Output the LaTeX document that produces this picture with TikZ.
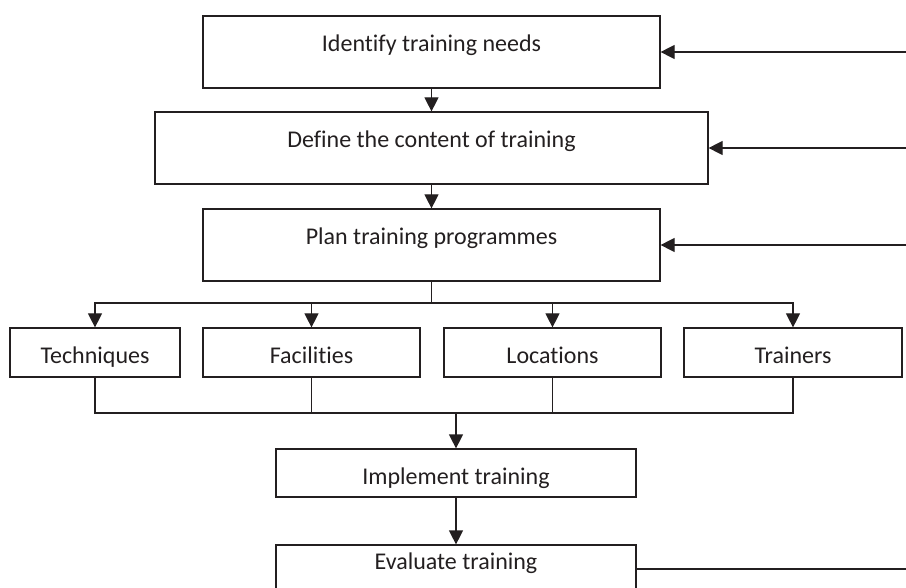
\documentclass[tikz,border=0pt]{standalone}
\usepackage{fontspec}
\setmainfont{Carlito}[Ligatures={NoCommon,NoContextual}]
\usetikzlibrary{arrows.meta}
\definecolor{ink}{HTML}{231F20}
\begin{document}
\begin{tikzpicture}[x=1pt,y=-1pt,
  box/.style={draw=ink,line width=1.2pt,inner sep=0pt,font=\fontsize{24}{28}\selectfont,text=ink},
  bigtext/.style={text height=0pt,text depth=0pt},
  smalltext/.style={text height=22pt,text depth=0pt},
  link/.style={draw=ink,line width=1.2pt},
  arr/.style={link,-{Triangle[length=14pt,width=14pt]}}]
\useasboundingbox (0,0) rectangle (906,588);
\clip (0,0) rectangle (906,588);
% main boxes
\node[box,bigtext,minimum width=457pt,minimum height=72pt] (id) at (431.5,52) {Identify training needs};
\node[box,bigtext,minimum width=553pt,minimum height=72pt] (def) at (431.5,148) {Define the content of training};
\node[box,bigtext,minimum width=457pt,minimum height=72pt] (plan) at (431.5,245) {Plan training programmes};
% small boxes
\node[box,smalltext,minimum width=170pt,minimum height=49pt] (tech) at (95,352.5) {Techniques};
\node[box,smalltext,minimum width=217pt,minimum height=49pt] (fac) at (311.5,352.5) {Facilities};
\node[box,smalltext,minimum width=217pt,minimum height=49pt] (loc) at (552.5,352.5) {Locations};
\node[box,smalltext,minimum width=218pt,minimum height=49pt] (trn) at (793,352.5) {Trainers};
% lower boxes
\node[box,smalltext,minimum width=360pt,minimum height=48pt] (impl) at (456,473) {Implement training};
\node[box,bigtext,minimum width=360pt,minimum height=48pt] (eval) at (456,569) {Evaluate training};
% connectors
\draw[arr] (id.south) -- (def.north);
\draw[arr] (def.south) -- (plan.north);
\coordinate (split) at (431.5,303);
\draw[link] (plan.south) -- (split);
\draw[arr] (split) -| (tech.north);
\draw[arr] (split) -| (fac.north);
\draw[arr] (split) -| (loc.north);
\draw[arr] (split) -| (trn.north);
\coordinate (join) at (456,413);
\draw[link] (tech.south) |- (join);
\draw[link] (fac.south) |- (join);
\draw[link] (loc.south) |- (join);
\draw[link] (trn.south) |- (join);
\draw[arr] (join) -- (impl.north);
\draw[arr] (impl.south) -- (eval.north);
% feedback lines
\coordinate (fb1) at (906,52);
\coordinate (fb2) at (906,148);
\coordinate (fb3) at (906,245);
\coordinate (fbe) at (906,569);
\draw[arr] (fb1) -- (id.east);
\draw[arr] (fb2) -- (def.east);
\draw[arr] (fb3) -- (plan.east);
\draw[link] (eval.east) -- (fbe);
\end{tikzpicture}
\end{document}
